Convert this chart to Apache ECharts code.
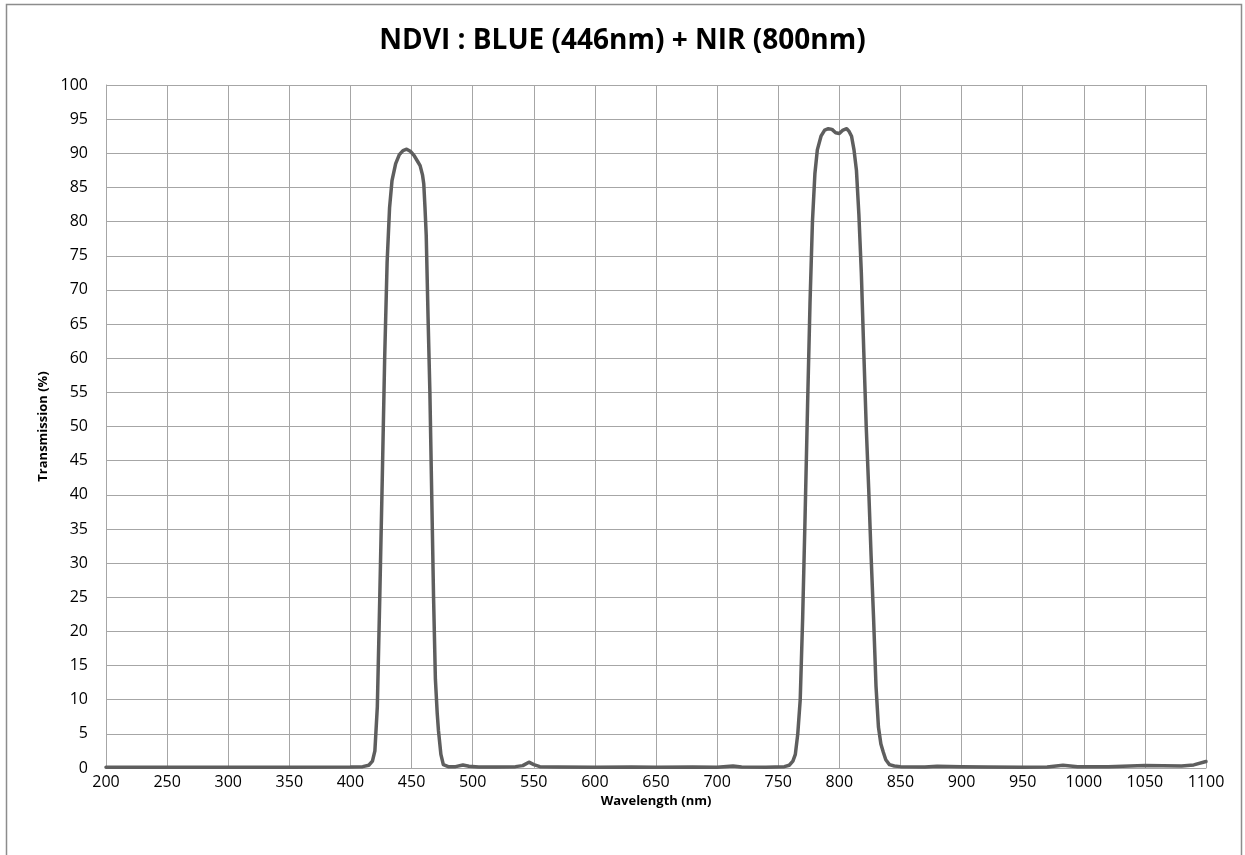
<!DOCTYPE html>
<html>
<head>
<meta charset="utf-8">
<script src="https://cdn.jsdelivr.net/npm/echarts@6/dist/echarts.min.js"></script>
<style>
html,body{margin:0;padding:0;background:#fff;}
#c{width:1245px;height:855px;}
</style>
</head>
<body>
<div id="c"></div>
<script>
const wavelengths = [200,250,300,350,400,410,415,418,420,422,424,426,428,430,432,434,437,440,443,446,449,452,455,457,459,460,461,462,463.5,465,466.5,468,469.5,471,472,474,476,480,486,492,497,505,520,535,541,546,550,555,570,600,630,650,680,700,713,720,740,755,759,762,764,766,768,770,772,774,776,778,780,782,785,788,791,794,797,800,803,806,808,810,812,814,816,818,820,822,824,826,828,830,832,834,836,838,841,845,850,870,880,900,920,950,970,983,995,1020,1050,1080,1090,1100];
const transmission = [0.1,0.1,0.1,0.1,0.15,0.2,0.4,1.0,2.5,9,25,42,60,74,82,86,88.5,89.8,90.4,90.6,90.3,89.7,88.8,88.2,86.8,85.5,82,78,66,55,40,25,13,8,5.5,2,0.5,0.2,0.2,0.45,0.25,0.15,0.15,0.2,0.35,0.85,0.5,0.2,0.15,0.1,0.15,0.1,0.15,0.1,0.3,0.15,0.1,0.2,0.4,1.0,2,5,10,22,37,53,68,80,87,90.5,92.5,93.4,93.6,93.5,93.0,92.9,93.4,93.6,93.2,92.5,90.5,87.5,81,72.5,61,50,41,31,22,12,6,3.5,2.3,1.2,0.5,0.3,0.2,0.15,0.25,0.2,0.15,0.1,0.15,0.4,0.2,0.2,0.35,0.3,0.45,0.95];
const titleText = 'NDVI : BLUE (446nm) + NIR (800nm)';
const xName = 'Wavelength (nm)';
const yName = 'Transmission (%)';

const chart = echarts.init(document.getElementById('c'));
const font = '"Open Sans", "Noto Sans", sans-serif';
chart.setOption({
  animation: false,
  backgroundColor: '#ffffff',
  title: {
    text: titleText, left: 'center', top: 22,
    textStyle: {fontFamily: font, fontSize: 28, fontWeight: 'bold', color: '#000'}
  },
  graphic: [{
    type: 'rect', shape: {x: 6.5, y: 4.5, width: 1235, height: 860},
    style: {fill: 'none', stroke: '#8c8c8c', lineWidth: 1.5}, silent: true
  }],
  grid: {left: 106, right: 39, top: 85, bottom: 87},
  xAxis: {
    type: 'value', min: 200, max: 1100, interval: 50,
    name: xName, nameLocation: 'middle', nameGap: 21,
    nameTextStyle: {fontFamily: font, fontSize: 13, fontWeight: 'bold', color: '#000'},
    axisLine: {show: true, lineStyle: {color: '#a6a6a6', width: 1}},
    axisTick: {show: false},
    axisLabel: {fontFamily: font, fontSize: 16, color: '#000', margin: 6,
      formatter: v => String(v)},
    splitLine: {show: true, lineStyle: {color: '#a6a6a6', width: 1}}
  },
  yAxis: {
    type: 'value', min: 0, max: 100, interval: 5,
    name: yName, nameLocation: 'middle', nameGap: 56, nameRotate: 90,
    nameTextStyle: {fontFamily: font, fontSize: 13, fontWeight: 'bold', color: '#000'},
    axisLine: {show: true, lineStyle: {color: '#a6a6a6', width: 1}},
    axisTick: {show: false},
    axisLabel: {fontFamily: font, fontSize: 16, color: '#000', margin: 18,
      formatter: v => String(v)},
    splitLine: {show: true, lineStyle: {color: '#a6a6a6', width: 1}}
  },
  series: [{
    type: 'line',
    data: wavelengths.map((w, i) => [w, transmission[i]]),
    showSymbol: false,
    smooth: false,
    lineStyle: {color: '#5e5e5e', width: 3.5, join: 'round', cap: 'round'},
    clip: true
  }]
});
</script>
</body>
</html>
